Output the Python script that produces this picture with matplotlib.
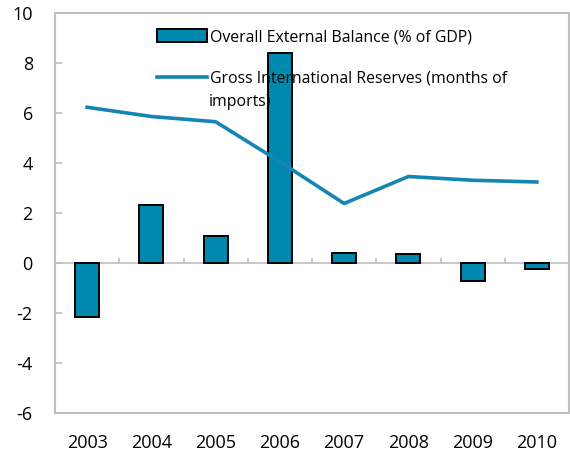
import numpy as np
import matplotlib
matplotlib.use("Agg")
import matplotlib.pyplot as plt

plt.rcParams['font.family'] = ['Open Sans', 'DejaVu Sans']
plt.rcParams['axes.unicode_minus'] = False

years = ['2003', '2004', '2005', '2006', '2007', '2008', '2009', '2010']
balance = [-2.15, 2.33, 1.08, 8.4, 0.42, 0.35, -0.7, -0.25]
reserves = [6.23, 5.86, 5.65, 4.05, 2.38, 3.46, 3.31, 3.24]

bar_color = '#0089AE'
line_color = '#1585B3'
grey = '#BFBFBF'

fig = plt.figure(figsize=(5.7, 4.57), dpi=100)
ax = fig.add_axes([55 / 570, 1 - 413 / 457, 514 / 570, 400 / 457])

x = np.arange(len(years))
bars = ax.bar(x, balance, width=0.37, color=bar_color, edgecolor='black',
              linewidth=1.4, zorder=3)
line, = ax.plot(x, reserves, color=line_color, linewidth=2.6, zorder=4)

# zero line with small category separators
ax.axhline(0, color=grey, linewidth=1.2, zorder=2)
ax.vlines(x[:-1] + 0.5, 0, 0.22, color=grey, linewidth=1.2, zorder=2)

ax.set_xlim(-0.5, len(years) - 0.5)
ax.set_ylim(-6, 10)
ax.set_yticks(np.arange(-6, 11, 2))
ax.set_xticks(x)
ax.set_xticklabels(years)
ax.tick_params(axis='x', length=0, pad=15, labelsize=13)
ax.tick_params(axis='y', direction='in', length=5, width=1.2, color=grey,
               pad=16, labelsize=13)

for s in ax.spines.values():
    s.set_color(grey)
    s.set_linewidth(1.5)

ax.legend([bars, line],
          ['Overall External Balance (% of GDP)',
           'Gross International Reserves (months of'],
          loc='upper left', bbox_to_anchor=(0.198, 0.96), frameon=False,
          borderpad=0, borderaxespad=0, fontsize=11.4, handlelength=3.15,
          handleheight=0.85, handletextpad=0.2, labelspacing=1.62)
ax.text(0.3, 0.777, 'imports)', transform=ax.transAxes, fontsize=11.4,
        va='center', ha='left', zorder=5)

fig.savefig('out.png', dpi=100)
